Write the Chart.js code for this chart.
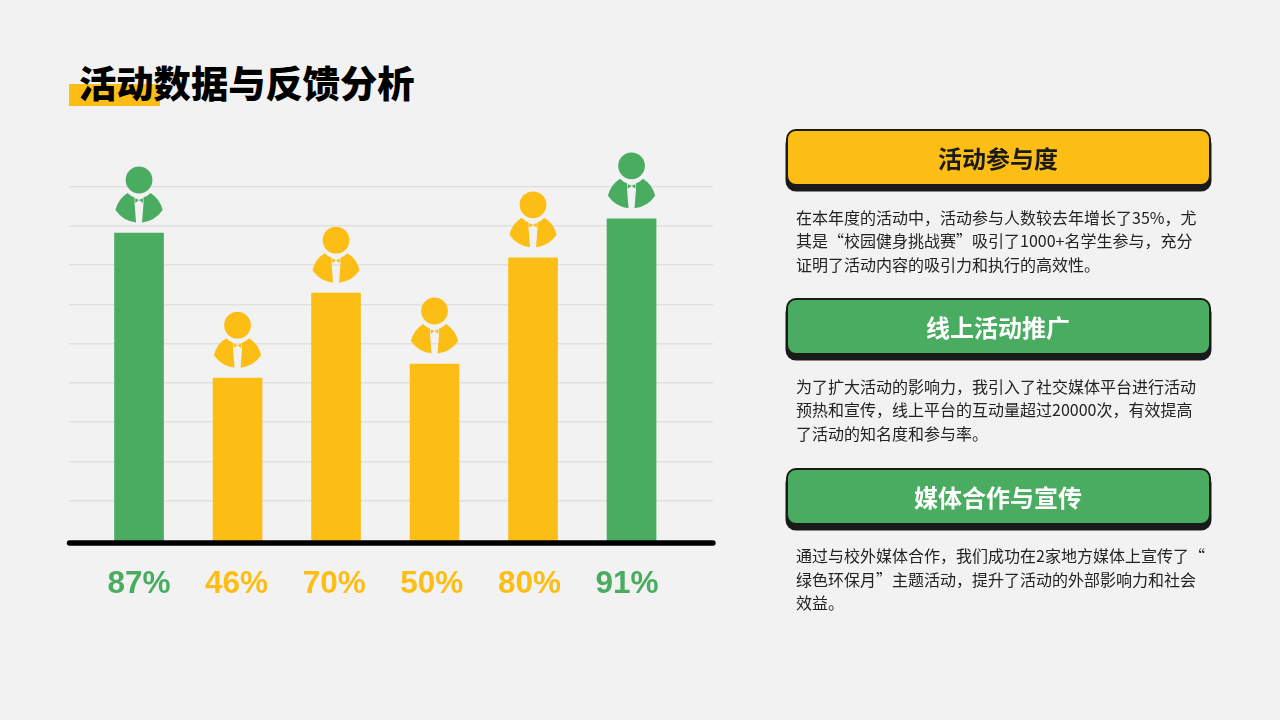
<!DOCTYPE html>
<html lang="zh">
<head>
<meta charset="utf-8">
<title>活动数据与反馈分析</title>
<script src="https://cdn.jsdelivr.net/npm/chart.js@4/dist/chart.umd.js"></script>
<style>
  html, body { margin: 0; padding: 0; }
  body { width: 1280px; height: 720px; overflow: hidden; position: relative; background: #f2f2f2;
    font-family: "Noto Sans CJK SC", "Noto Sans", sans-serif; }
  #chart { position: absolute; left: 0; top: 0; }
  .mark { position: absolute; left: 69px; top: 84px; width: 91px; height: 22px; background: #fcbe14; }
  h1 { position: absolute; left: 79px; top: 56px; margin: 0; font-size: 37.3px; line-height: 52px; font-weight: 900; color: #000; white-space: nowrap; }
  .head { position: absolute; left: 785.5px; width: 421px; height: 53px; border: 2px solid #1a1a1a; border-radius: 10px;
    box-shadow: 0 5px 0 0.5px #1a1a1a; text-align: center; font-size: 24px; line-height: 53px; font-weight: 700; }
  .body { position: absolute; left: 796px; width: 420px; font-size: 16px; line-height: 23.5px; color: #222; white-space: nowrap; }
</style>
</head>
<body>
<div class="mark"></div>
<h1>活动数据与反馈分析</h1>
<canvas id="chart" width="1280" height="720"></canvas>
<div id="panels"></div>
<script>
const participation = [87, 46, 70, 50, 80, 91];
const gridTicks = [11.4, 22.5, 33.6, 44.6, 55.7, 66.8, 77.9, 88.9, 100];
const panelTitles = ['活动参与度', '线上活动推广', '媒体合作与宣传'];
const panelBodies = [
  ['在本年度的活动中，活动参与人数较去年增长了35%，尤', '其是“校园健身挑战赛”吸引了1000+名学生参与，充分', '证明了活动内容的吸引力和执行的高效性。'],
  ['为了扩大活动的影响力，我引入了社交媒体平台进行活动', '预热和宣传，线上平台的互动量超过20000次，有效提高', '了活动的知名度和参与率。'],
  ['通过与校外媒体合作，我们成功在2家地方媒体上宣传了“', '绿色环保月”主题活动，提升了活动的外部影响力和社会', '效益。']
];

const GREEN = '#4aac60';
const YELLOW = '#fcbe14';
const colorFor = (v) => (v > 85 ? GREEN : YELLOW);

// right column
const panels = document.getElementById('panels');
panelTitles.forEach((title, i) => {
  const top = 129 + i * 169.3;
  const head = document.createElement('div');
  head.className = 'head';
  head.style.top = top + 'px';
  head.style.background = i === 0 ? YELLOW : GREEN;
  head.style.color = i === 0 ? '#1a1a1a' : '#fff';
  head.textContent = title;
  panels.appendChild(head);
  const body = document.createElement('div');
  body.className = 'body';
  body.style.top = (top + 76.5) + 'px';
  body.innerHTML = panelBodies[i].join('<br>');
  panels.appendChild(body);
});

// person icon, (0,0) is the middle of the head
function drawPerson(ctx, x, y, color) {
  ctx.save();
  ctx.translate(x, y);
  ctx.fillStyle = color;
  ctx.beginPath();
  ctx.arc(0, 0, 13.4, 0, Math.PI * 2);
  ctx.fill();
  [-1, 1].forEach((side) => {
    ctx.save();
    ctx.scale(side, 1);
    ctx.beginPath();
    ctx.moveTo(11.5, 13);
    ctx.quadraticCurveTo(8, 16.5, 4.5, 17.5);
    ctx.lineTo(4.5, 23);
    ctx.lineTo(3, 42.5);
    ctx.quadraticCurveTo(16, 41, 23.6, 30);
    ctx.quadraticCurveTo(21, 19, 11.5, 13);
    ctx.fill();
    ctx.beginPath();
    ctx.moveTo(0, 20);
    ctx.lineTo(3.8, 18.3);
    ctx.lineTo(3.8, 23);
    ctx.closePath();
    ctx.fill();
    ctx.restore();
  });
  ctx.restore();
}

const decorations = {
  id: 'decorations',
  afterDatasetsDraw(chart) {
    const ctx = chart.ctx;
    const { left, right, bottom } = chart.chartArea;
    // thick base line with round ends
    ctx.save();
    ctx.strokeStyle = '#000';
    ctx.lineWidth = 5.4;
    ctx.lineCap = 'round';
    ctx.beginPath();
    ctx.moveTo(left + 0.5, bottom + 2);
    ctx.lineTo(right, bottom + 2);
    ctx.stroke();
    ctx.restore();
    // one person above each bar
    chart.getDatasetMeta(0).data.forEach((bar, i) => {
      drawPerson(ctx, bar.x, bar.y - 53, colorFor(participation[i]));
    });
  }
};

new Chart(document.getElementById('chart'), {
  type: 'bar',
  data: {
    datasets: [{
      data: participation.map((v, i) => ({ x: i, y: v })),
      backgroundColor: participation.map(colorFor),
      barThickness: 49,
      xAxisID: 'x',
      yAxisID: 'y'
    }]
  },
  options: {
    responsive: false,
    animation: false,
    layout: { padding: { left: 69, right: 567, top: 187, bottom: 0 } },
    plugins: { legend: { display: false }, tooltip: { enabled: false } },
    scales: {
      // bars
      x: { type: 'linear', display: false, offset: false, bounds: 'data', min: -0.711, max: 5.827 },
      // percent labels sit a little tighter than the bars
      labelAxis: {
        type: 'linear',
        position: 'bottom',
        offset: false,
        bounds: 'data',
        min: -0.717,
        max: 5.881,
        border: { display: false },
        grid: { display: false, drawTicks: false },
        afterBuildTicks(scale) {
          scale.ticks = participation.map((v, i) => ({ value: i }));
        },
        afterFit(scale) {
          scale.height = 179;
        },
        ticks: {
          autoSkip: false,
          maxRotation: 0,
          padding: 24,
          font: { family: '"Liberation Sans", Arial, sans-serif', size: 31.5, weight: 'bold' },
          color: (c) => colorFor(participation[c.index]),
          callback: (value) => participation[value] + '%'
        }
      },
      y: {
        min: 0,
        max: 100,
        border: { display: false },
        grid: { color: '#e0e0e0', lineWidth: 1.6, drawTicks: false },
        afterBuildTicks(scale) {
          scale.ticks = gridTicks.map((v) => ({ value: v }));
        },
        afterFit(scale) {
          scale.width = 0;
        },
        ticks: { display: false }
      }
    }
  },
  plugins: [decorations]
});
</script>
</body>
</html>
